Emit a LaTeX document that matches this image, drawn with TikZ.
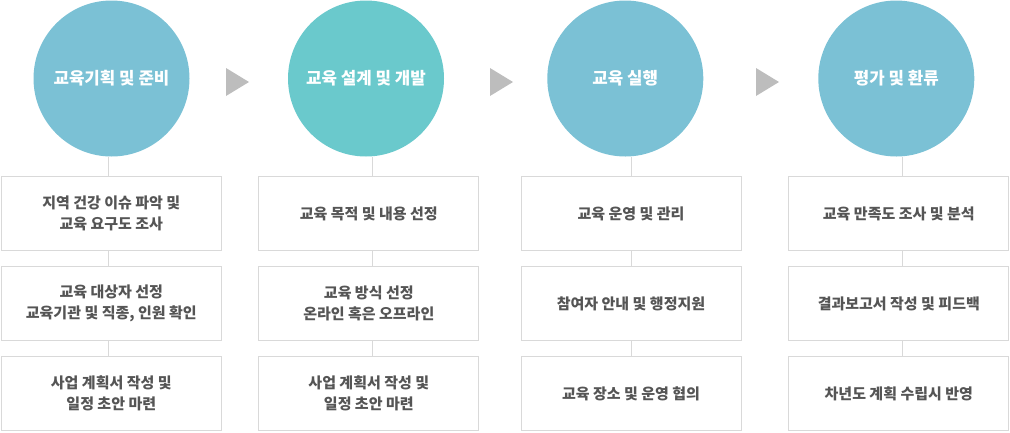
\documentclass[tikz,border=0pt]{standalone}
\usepackage{fontspec}
\setmainfont{Noto Sans CJK KR}
\definecolor{cblue}{RGB}{123,193,213}
\definecolor{cteal}{RGB}{106,201,204}
\definecolor{boxline}{RGB}{217,217,217}
\definecolor{txt}{RGB}{85,85,85}
\definecolor{tri}{RGB}{189,189,189}
\tikzset{
  phase/.style={circle, minimum size=156pt, inner sep=0pt, fill=#1, text=white,
    font=\fontsize{16.8}{20}\selectfont\bfseries},
  stepbox/.style={draw=boxline, line width=0.8pt, fill=white, minimum width=220pt,
    minimum height=74pt, inner sep=0pt, text=txt, align=center,
    font=\fontsize{15}{20.5}\selectfont\bfseries},
  conn/.style={draw=boxline, line width=0.8pt},
  arrowtri/.style={fill=tri, draw=none}
}
\begin{document}
\begin{tikzpicture}[x=1pt,y=-1pt]
\useasboundingbox (0,0) rectangle (1010,432);
% circles
\node[phase=cblue] (c1) at (111.5,78.5) {교육기획 및 준비};
\node[phase=cteal] (c2) at (366,78.5) {교육 설계 및 개발};
\node[phase=cblue] (c3) at (625.3,78.5) {교육 실행};
\node[phase=cblue] (c4) at (896.3,78.5) {평가 및 환류};
% triangles
\fill[arrowtri] (226,68) -- (249,82) -- (226,96) -- cycle;
\fill[arrowtri] (490,68) -- (513,82) -- (490,96) -- cycle;
\fill[arrowtri] (756,68) -- (779,82) -- (756,96) -- cycle;
% column line positions
\coordinate (x1) at (108.7,0);
\coordinate (x2) at (372.7,0);
\coordinate (x3) at (631.7,0);
\coordinate (x4) at (902.7,0);
% boxes column 1
\node[stepbox] (b11) at (111.3,213.5) {지역 건강 이슈 파악 및\\교육 요구도 조사};
\node[stepbox] (b12) at (111.3,303.5) {교육 대상자 선정\\교육기관 및 직종, 인원 확인};
\node[stepbox] (b13) at (111.3,393.5) {사업 계획서 작성 및\\일정 초안 마련};
% column 2
\node[stepbox] (b21) at (368.8,213.5) {교육 목적 및 내용 선정};
\node[stepbox] (b22) at (368.8,303.5) {교육 방식 선정\\온라인 혹은 오프라인};
\node[stepbox] (b23) at (368.8,393.5) {사업 계획서 작성 및\\일정 초안 마련};
% column 3
\node[stepbox] (b31) at (631,213.5) {교육 운영 및 관리};
\node[stepbox] (b32) at (631,303.5) {참여자 안내 및 행정지원};
\node[stepbox] (b33) at (631,393.5) {교육 장소 및 운영 협의};
% column 4
\node[stepbox] (b41) at (898.8,213.5) {교육 만족도 조사 및 분석};
\node[stepbox] (b42) at (898.8,303.5) {결과보고서 작성 및 피드백};
\node[stepbox] (b43) at (898.8,393.5) {차년도 계획 수립시 반영};
% connectors
\foreach \i in {1,2,3,4}{
  \draw[conn] (c\i.south -| x\i) -- (b\i1.north -| x\i);
  \draw[conn] (b\i1.south -| x\i) -- (b\i2.north -| x\i);
  \draw[conn] (b\i2.south -| x\i) -- (b\i3.north -| x\i);
}
\end{tikzpicture}
\end{document}
